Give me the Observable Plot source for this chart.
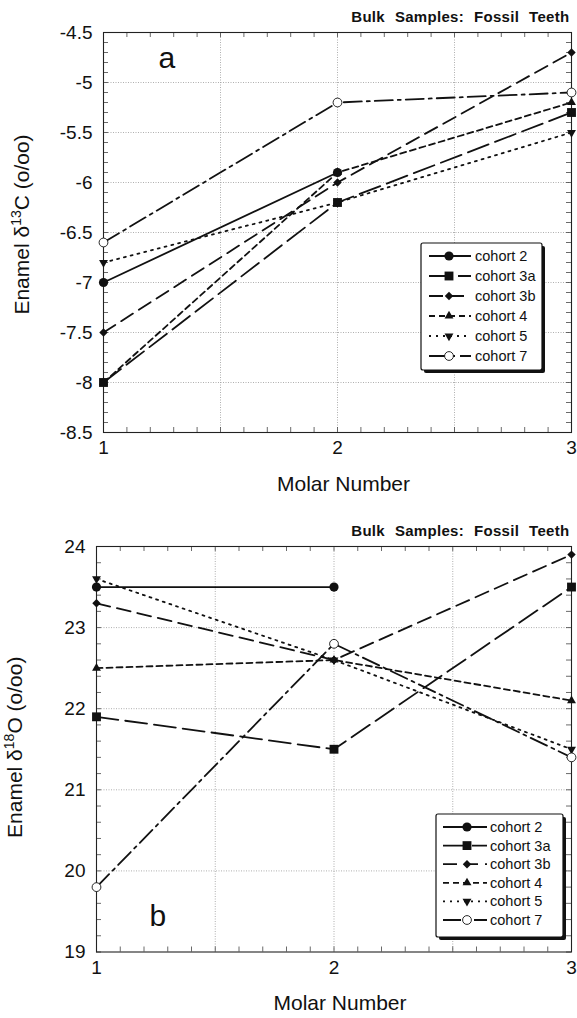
<!DOCTYPE html>
<html><head><meta charset="utf-8">
<script src="https://cdn.jsdelivr.net/npm/d3@7"></script>
<script src="https://cdn.jsdelivr.net/npm/@observablehq/plot@0.6"></script>
<style>
html,body{margin:0;padding:0;background:#fff;}
#chart{width:577px;height:1018px;position:relative;font-family:"Liberation Sans",Arial,Helvetica,sans-serif;}
#chart svg{display:block;}
</style></head><body><div id="chart"></div>
<script>
// ---- data ----
const molars = [1, 2, 3];
const cohorts = ["cohort 2", "cohort 3a", "cohort 3b", "cohort 4", "cohort 5", "cohort 7"];
const d13C = [
  [-7.0, -5.9, null],
  [-8.0, -6.2, -5.3],
  [-7.5, -6.0, -4.7],
  [-8.0, -5.9, -5.2],
  [-6.8, -6.2, -5.5],
  [-6.6, -5.2, -5.1]
];
const d18O = [
  [23.5, 23.5, null],
  [21.9, 21.5, 23.5],
  [23.3, 22.6, 23.9],
  [22.5, 22.6, 22.1],
  [23.6, 22.6, 21.5],
  [19.8, 22.8, 21.4]
];
const xTickLabels = [1, 2, 3];
const yTicksA = [-8.5, -8, -7.5, -7, -6.5, -6, -5.5, -5, -4.5];
const yTicksB = [19, 20, 21, 22, 23, 24];
const titleText = "Bulk Samples: Fossil Teeth";
const xTitle = "Molar Number";
const yTitleA = ["Enamel δ", "13", "C (o/oo)"];
const yTitleB = ["Enamel δ", "18", "O (o/oo)"];

// ---- styles ----
const INK = "#111";
const styles = [
  {dash: null, symbol: "circle", r: 4.6, fill: INK},
  {dash: "22,7", symbol: "square", r: 5.0, fill: INK},
  {dash: "14,7", symbol: "diamond2", r: 3.8, fill: INK},
  {dash: "6,4", symbol: "triangle", r: 3.3, fill: INK},
  {dash: "2,5", symbol: "triangle", r: 3.3, fill: INK, rotate: 180},
  {dash: "18,5,3,5", symbol: "circle", r: 4.4, fill: "#fff", stroke: INK}
];
const d3Symbols = {circle: d3.symbolCircle, square: d3.symbolSquare, diamond2: d3.symbolDiamond2, triangle: d3.symbolTriangle};

const W = 577, H = 509;
const FONT = "'Liberation Sans', Arial, Helvetica, sans-serif";

function makePanel(cfg) {
  const [x0, x1] = [1, 3];
  const [y0, y1] = cfg.yDomain;
  const pxX = (W - cfg.mL - cfg.mR) / (x1 - x0);
  const pxY = (H - cfg.mT - cfg.mB) / (y1 - y0);
  const tlx = 5 / pxX, tly = 5 / pxY;
  const xMinor = d3.range(0, 21).map(i => +(x0 + i * 0.1).toFixed(2));
  const nY = Math.round((y1 - y0) / cfg.yMinorStep);
  const yMinor = d3.range(0, nY + 1).map(i => +(y0 + i * cfg.yMinorStep).toFixed(2));
  const tickStyle = {stroke: "#444", strokeWidth: 0.8};
  const gridStyle = {stroke: "#9a9a9a", strokeWidth: 0.8, strokeDasharray: "1,1.5"};
  const marks = [
    Plot.ruleX([1.5, 2, 2.5], gridStyle),
    Plot.ruleY(cfg.yTicks.slice(1, -1), gridStyle),
    Plot.ruleY(yMinor, {y: d => d, x1: x0, x2: x0 + tlx, ...tickStyle}),
    Plot.ruleY(yMinor, {y: d => d, x1: x1 - tlx, x2: x1, ...tickStyle}),
    Plot.ruleX(xMinor, {x: d => d, y1: y0, y2: y0 + tly, ...tickStyle}),
    Plot.ruleX(xMinor, {x: d => d, y1: y1 - tly, y2: y1, ...tickStyle}),
    Plot.frame({stroke: "#222", strokeWidth: 1.1})
  ];
  const rowsOf = i => molars.map((m, j) => ({x: m, y: cfg.values[i][j]})).filter(d => d.y != null);
  cohorts.forEach((c, i) => {
    const s = styles[i];
    const o = {x: "x", y: "y", stroke: INK, strokeWidth: 1.8};
    if (s.dash) o.strokeDasharray = s.dash;
    marks.push(Plot.line(rowsOf(i), o));
  });
  cohorts.forEach((c, i) => {
    const s = styles[i];
    const o = {x: "x", y: "y", symbol: s.symbol, r: s.r, fill: s.fill};
    if (s.stroke) { o.stroke = s.stroke; o.strokeWidth = 0.9; }
    if (s.rotate) o.rotate = s.rotate;
    marks.push(Plot.dot(rowsOf(i), o));
  });
  marks.push(
    Plot.axisY({ticks: cfg.yTicks, tickSize: 0, tickPadding: 11, tickFormat: d => String(d), fontSize: 19, label: null}),
    Plot.axisX({ticks: xTickLabels, tickSize: 0, tickPadding: 8, tickFormat: d => String(d), fontSize: 19, label: null}),
    Plot.text([titleText], {frameAnchor: "top-right", dx: -2, dy: -10.5, lineAnchor: "bottom", textAnchor: "end", fontWeight: "bold", fontSize: 15}),
    Plot.text([cfg.letter], cfg.letterOpts),
    Plot.text([xTitle], {frameAnchor: "bottom", dx: 6, dy: 58, lineAnchor: "bottom", textAnchor: "middle", fontSize: 21}),
    Plot.text([cfg.yTitle.join("")], {frameAnchor: "left", rotate: -90, dx: -81, dy: cfg.yTitleDy, textAnchor: "middle", fontSize: 21})
  );
  const svg = Plot.plot({
    width: W, height: H,
    marginTop: cfg.mT, marginBottom: cfg.mB, marginLeft: cfg.mL, marginRight: cfg.mR,
    x: {domain: [x0, x1], axis: null},
    y: {domain: [y0, y1], axis: null},
    style: {fontFamily: FONT, fontSize: "19px", color: INK, background: "#fff", overflow: "visible"},
    marks
  });
  // superscript in y title & spacing in title
  d3.select(svg).selectAll("text").each(function () {
    const t = this.textContent;
    if (t === cfg.yTitle.join("")) {
      const sel = d3.select(this);
      sel.text(null);
      sel.append("tspan").text(cfg.yTitle[0]);
      sel.append("tspan").attr("dy", -8).attr("font-size", "14px").text(cfg.yTitle[1]);
      sel.append("tspan").attr("dy", 8).text(cfg.yTitle[2]);
    } else if (t === titleText) {
      d3.select(this).style("letter-spacing", "0.3px").style("word-spacing", "5.5px");
    }
  });
  // legend
  const L = cfg.legend;
  const g = d3.select(svg).append("g").attr("font-family", FONT).attr("font-size", 14.5).attr("text-anchor", "start");
  g.append("rect").attr("x", L.x + 3).attr("y", L.y + 3).attr("width", L.w).attr("height", L.h).attr("rx", 2).attr("fill", INK);
  g.append("rect").attr("x", L.x).attr("y", L.y).attr("width", L.w).attr("height", L.h).attr("rx", 2).attr("fill", "#fff").attr("stroke", INK).attr("stroke-width", 1.2);
  cohorts.forEach((c, i) => {
    const s = styles[i];
    const y = L.row0 + i * L.step;
    const ln = g.append("line").attr("x1", L.lx0).attr("x2", L.lx1).attr("y1", y).attr("y2", y).attr("stroke", INK).attr("stroke-width", 1.8);
    if (s.dash) ln.attr("stroke-dasharray", s.dash);
    const p = g.append("path").attr("d", d3.symbol(d3Symbols[s.symbol], Math.PI * s.r * s.r)())
      .attr("transform", `translate(${L.mx},${y})${s.rotate ? ` rotate(${s.rotate})` : ""}`)
      .attr("fill", s.fill);
    if (s.stroke) p.attr("stroke", s.stroke).attr("stroke-width", 0.9);
    g.append("text").attr("x", L.tx).attr("y", y).attr("dy", "0.35em").attr("text-anchor", "start").attr("fill", INK).text(c);
  });
  return svg;
}

const chart = document.getElementById("chart");
chart.append(makePanel({
  values: d13C, yDomain: [-8.5, -4.5], yTicks: yTicksA, yMinorStep: 0.1,
  mT: 32, mB: 77, mL: 103, mR: 6,
  letter: "a",
  letterOpts: {frameAnchor: "top-left", dx: 55, dy: 35, lineAnchor: "bottom", textAnchor: "start", fontSize: 30},
  yTitle: yTitleA, yTitleDy: -8,
  legend: {x: 421, y: 243, w: 121, h: 127, row0: 256, step: 20, lx0: 429, lx1: 471, mx: 449, tx: 475}
}));
chart.append(makePanel({
  values: d18O, yDomain: [19, 24], yTicks: yTicksB, yMinorStep: 0.2,
  mT: 37, mB: 66.5, mL: 96, mR: 6,
  letter: "b",
  letterOpts: {frameAnchor: "bottom-left", dx: 53, dy: -26.5, lineAnchor: "bottom", textAnchor: "start", fontSize: 30},
  yTitle: yTitleB, yTitleDy: -2,
  legend: {x: 436, y: 305, w: 127, h: 123, row0: 318, step: 18.6, lx0: 443, lx1: 487, mx: 467, tx: 490}
}));
</script></body></html>
